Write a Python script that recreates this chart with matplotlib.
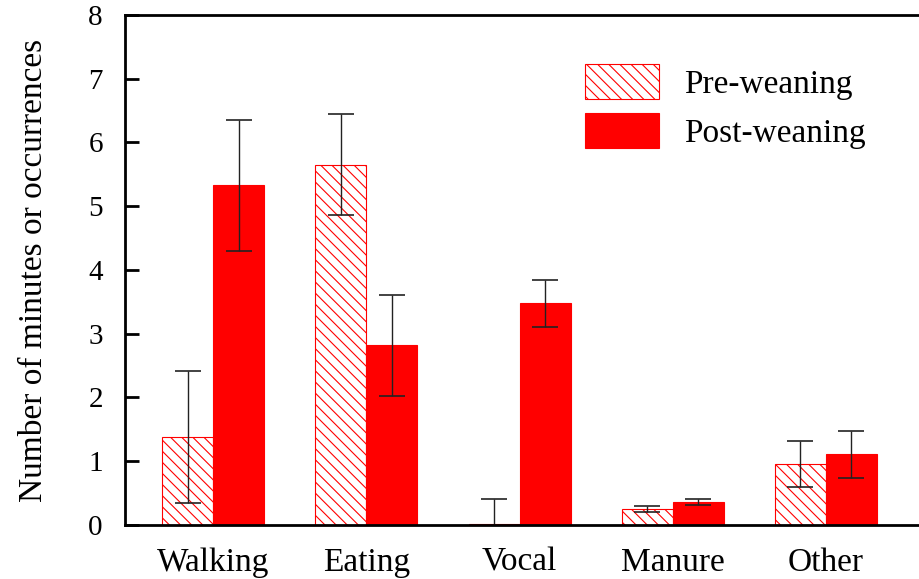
import numpy as np
import matplotlib.pyplot as plt

plt.rcParams['font.family'] = 'Liberation Serif'
plt.rcParams['hatch.linewidth'] = 0.8

behaviours = ['Walking', 'Eating', 'Vocal', 'Manure', 'Other']
pre_mean = [1.38, 5.65, 0.02, 0.25, 0.96]
pre_err = [1.03, 0.79, 0.38, 0.05, 0.36]
post_mean = [5.33, 2.82, 3.48, 0.36, 1.11]
post_err = [1.03, 0.79, 0.37, 0.05, 0.37]

x = np.arange(len(behaviours))
w = 0.333

fig = plt.figure(figsize=(9.2, 5.79), dpi=100)
ax = fig.add_axes([0.1359, 0.0933, 0.8641, 0.8808])

ax.bar(x - w / 2, pre_mean, w, color='white', edgecolor='red', hatch='\\\\\\',
       linewidth=0.8, label='Pre-weaning')
ax.bar(x + w / 2, post_mean, w, color='red', edgecolor='red', linewidth=0.8,
       label='Post-weaning')
ax.errorbar(x - w / 2, pre_mean, yerr=pre_err, fmt='none', ecolor='#222222',
            elinewidth=1, capsize=9.5, capthick=1.2)
ax.errorbar(x + w / 2, post_mean, yerr=post_err, fmt='none', ecolor='#222222',
            elinewidth=1, capsize=9.5, capthick=1.2)

ax.set_xlim(-0.575, 4.614)
ax.set_ylim(0, 8)
ax.set_yticks(range(0, 9))
ax.set_xticks(x)
ax.set_xticklabels(behaviours, fontsize=24)
ax.tick_params(axis='y', direction='in', length=10, width=2, labelsize=21, pad=16)
ax.tick_params(axis='x', length=0, pad=16)
ax.set_ylabel('Number of minutes or occurrences', fontsize=24, labelpad=28)

for side in ['left', 'bottom', 'top']:
    ax.spines[side].set_linewidth(2)
ax.spines['right'].set_visible(False)

ax.legend(loc='upper left', bbox_to_anchor=(0.579, 0.904), frameon=False,
          fontsize=24, borderpad=0, borderaxespad=0, handlelength=2.2,
          handleheight=1.25, handletextpad=0.75, labelspacing=0.4)

fig.savefig('out.png', dpi=100)
